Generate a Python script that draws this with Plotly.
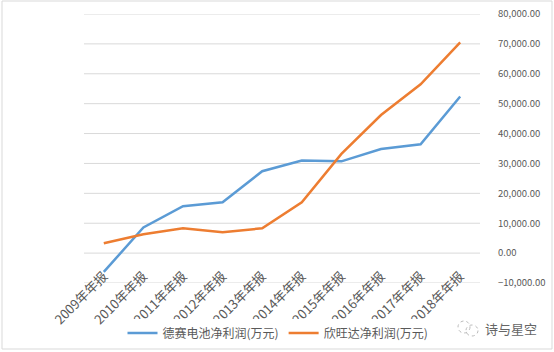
import plotly.graph_objects as go

categories = ["2009年年报", "2010年年报", "2011年年报", "2012年年报", "2013年年报",
              "2014年年报", "2015年年报", "2016年年报", "2017年年报", "2018年年报"]
desay = [-6300, 8600, 15700, 17000, 27400, 31000, 30700, 34800, 36400, 52400]
sunwoda = [3300, 6300, 8300, 7000, 8300, 17000, 33200, 46200, 56500, 70500]
name_desay = "德赛电池净利润(万元)"
name_sunwoda = "欣旺达净利润(万元)"
y_ticks = [-10000, 0, 10000, 20000, 30000, 40000, 50000, 60000, 70000, 80000]

FONT = "Noto Sans CJK SC"
y_min, y_max = -10000, 80000
W, H = 396, 269  # plot area size
n = len(categories)
idx = list(range(n))
x_lo, x_hi = -0.5, n - 0.5

fig = go.Figure()
# horizontal gridlines at every value-axis tick (drawn first, beneath the series)
for v in y_ticks:
    fig.add_trace(go.Scatter(x=[x_lo, x_hi], y=[v, v], mode="lines",
                             line=dict(color="#D9D9D9", width=1),
                             showlegend=False, hoverinfo="skip"))
fig.add_trace(go.Scatter(x=idx, y=desay, mode="lines", name=name_desay,
                         line=dict(color="#5B9BD5", width=2.5)))
fig.add_trace(go.Scatter(x=idx, y=sunwoda, mode="lines", name=name_sunwoda,
                         line=dict(color="#ED7D31", width=2.5)))
# invisible trace to carry the category labels on the axis that crosses at 0
fig.add_trace(go.Scatter(x=categories, y=[0] * n, xaxis="x2", mode="lines",
                         line=dict(width=0), showlegend=False, hoverinfo="skip"))

fig.update_layout(
    width=554, height=352,
    margin=dict(l=84, r=74, t=14, b=69, autoexpand=False),
    paper_bgcolor="white", plot_bgcolor="white",
    font=dict(family=FONT, size=11, color="#595959"),
    showlegend=True,
    legend=dict(orientation="h", xref="container", yref="container",
                x=278 / 554, xanchor="center", y=1 - 333 / 352, yanchor="middle",
                font=dict(size=12, color="#595959")),
    xaxis=dict(type="linear", range=[x_lo, x_hi], showgrid=False, showline=False,
               zeroline=False, showticklabels=False, ticks=""),
    xaxis2=dict(type="category", range=[x_lo, x_hi], overlaying="x", anchor="free",
                position=(0 - y_min) / (y_max - y_min), showgrid=False, showline=False,
                zeroline=False, tickangle=-45, ticks="", ticklabelstandoff=12,
                tickfont=dict(size=13, color="#595959")),
    yaxis=dict(range=[y_min, y_max], side="right", tickvals=y_ticks, tickformat=",.2f",
               showgrid=False, zeroline=False, showline=False, ticks="",
               ticklabelstandoff=17, tickfont=dict(size=9.5, color="#595959")),
    shapes=[
            dict(type="rect", xref="paper", yref="paper", x0=-82 / W, x1=1 + 72 / W,
                 y0=-66 / H, y1=1 + 13 / H, line=dict(color="#D9D9D9", width=1)),
            dict(type="circle", xref="paper", yref="paper",
                 x0=(458 - 84) / W, x1=(470 - 84) / W,
                 y0=-(333 - 283) / H, y1=-(321 - 283) / H,
                 line=dict(color="#BBBBBB", width=1, dash="dot")),
            dict(type="circle", xref="paper", yref="paper",
                 x0=(466 - 84) / W, x1=(478 - 84) / W,
                 y0=-(336 - 283) / H, y1=-(325 - 283) / H,
                 line=dict(color="#BBBBBB", width=1, dash="dot"))],
    annotations=[dict(text="诗与星空", xref="paper", yref="paper", x=(511 - 84) / W,
                      y=-(329 - 283) / H, xanchor="center", yanchor="middle",
                      showarrow=False, font=dict(size=13, color="#666666", family=FONT))],
)
fig.write_html("out.html")
